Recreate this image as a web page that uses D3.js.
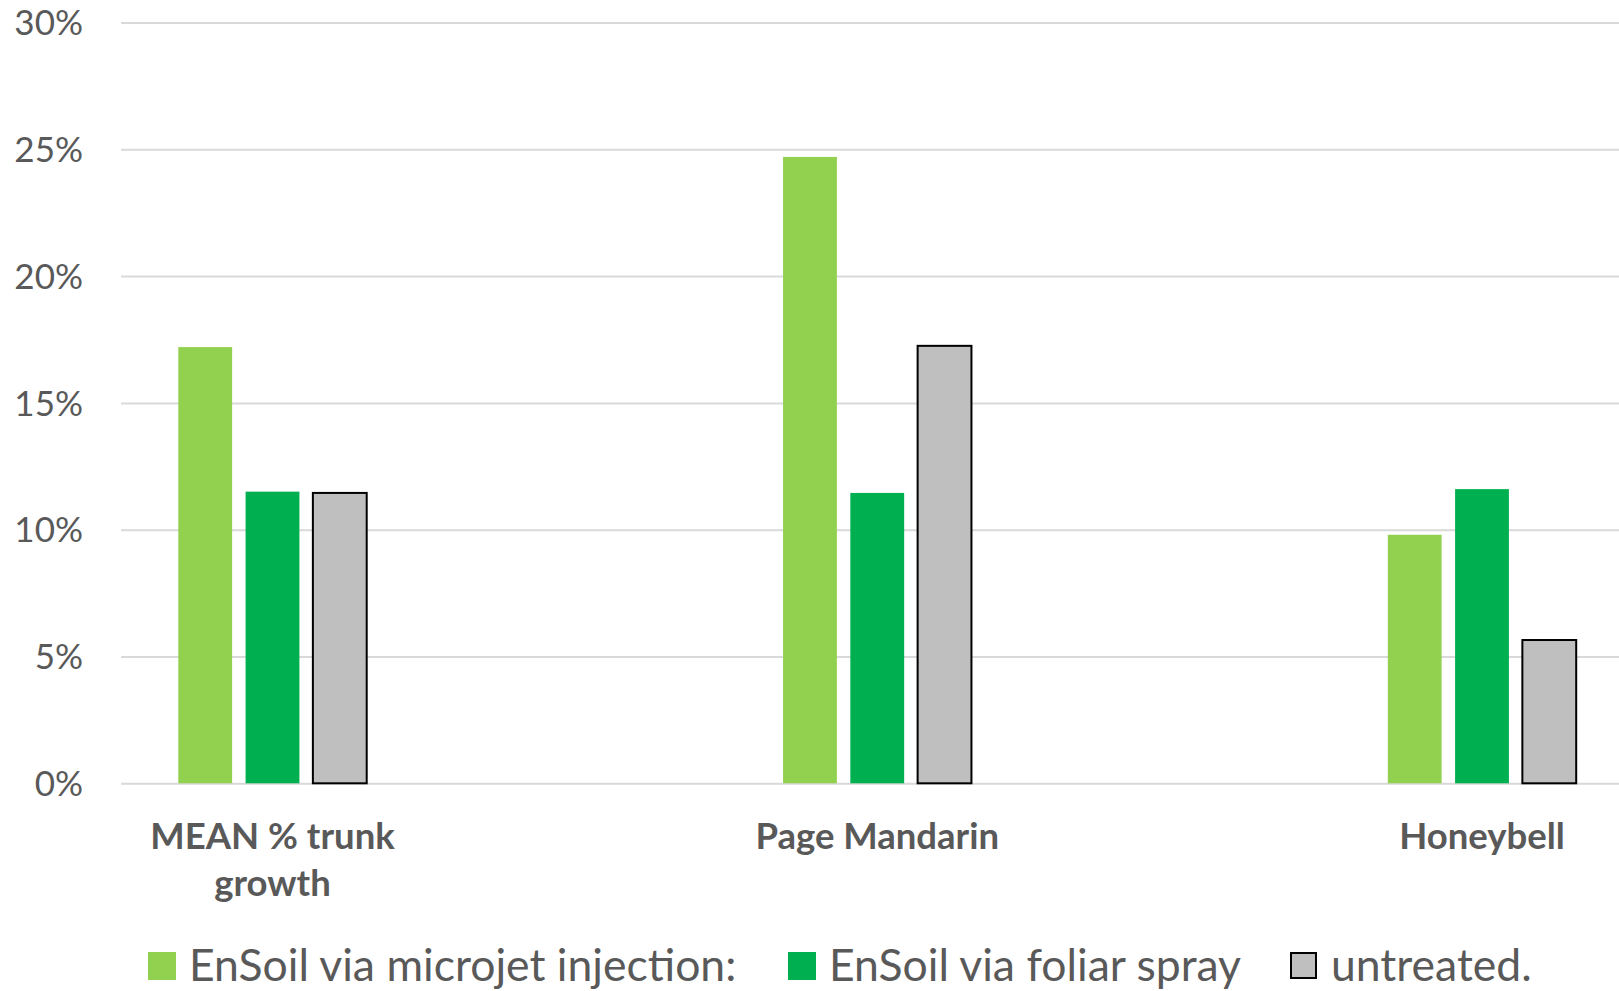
<!DOCTYPE html>
<html>
<head>
<meta charset="utf-8">
<script src="https://cdn.jsdelivr.net/npm/d3@7"></script>
<style>
  body { margin: 0; background: #fff; }
  text { font-family: Lato, "Open Sans", sans-serif; fill: #595959; }
</style>
</head>
<body>
<svg id="chart"></svg>
<script>
// ---- data ----
const categories = [["MEAN % trunk", "growth"], ["Page Mandarin"], ["Honeybell"]];
const seriesNames = ["EnSoil via microjet injection:", "EnSoil via foliar spray", "untreated."];
const microjet = [17.2, 24.7, 9.8];
const foliar = [11.5, 11.45, 11.6];
const untreated = [11.45, 17.25, 5.65];
const yTicks = [0, 5, 10, 15, 20, 25, 30];

const colors = ["#92d050", "#00b050", "#bfbfbf"];
const seriesValues = [microjet, foliar, untreated];

const width = 1619;
const height = 991;

const svg = d3.select("#chart")
    .attr("width", width)
    .attr("height", height);

// ---- scales ----
const y = d3.scaleLinear().domain([0, 30]).range([783.3, 22.5]);

const x = d3.scalePoint()
    .domain(d3.range(categories.length))
    .range([272.5, 1482]);

const inner = d3.scaleBand()
    .domain(d3.range(seriesNames.length))
    .range([-94.2, 94.2])
    .paddingInner(0.2);

// ---- gridlines + y labels ----
const yAxis = svg.append("g")
    .call(d3.axisLeft(y).tickValues(yTicks).tickSize(0).tickPadding(0)
        .tickFormat(d => d + "%"));
yAxis.select(".domain").remove();
yAxis.selectAll(".tick line")
    .attr("x1", 121).attr("x2", width)
    .attr("stroke", "#d9d9d9").attr("stroke-width", 2);
yAxis.selectAll(".tick text")
    .attr("x", 83)
    .attr("dy", "0.35em")
    .style("font-size", "35px")
    .style("fill", "#595959");

// ---- bars ----
seriesValues.forEach((vals, s) => {
  svg.append("g").selectAll("rect")
    .data(vals)
    .enter().append("rect")
    .attr("x", (d, i) => x(i) + inner(s))
    .attr("width", inner.bandwidth())
    .attr("y", d => y(d))
    .attr("height", d => y(0) - y(d))
    .attr("fill", colors[s])
    .attr("stroke", s === 2 ? "#000" : "none")
    .attr("stroke-width", 2);
});

// ---- category labels ----
const catLabels = svg.append("g").selectAll("text")
    .data(categories)
    .enter().append("text")
    .attr("x", (d, i) => x(i))
    .attr("y", 849)
    .attr("text-anchor", "middle")
    .style("font-size", "36.5px")
    .style("font-weight", "bold");

catLabels.selectAll("tspan")
    .data(d => d)
    .enter().append("tspan")
    .attr("x", function () { return d3.select(this.parentNode).attr("x"); })
    .attr("dy", (d, i) => i === 0 ? 0 : 47)
    .text(d => d);

// ---- legend ----
const legendX = [148, 788, 1290];
const legend = svg.append("g").selectAll("g")
    .data(seriesNames)
    .enter().append("g")
    .attr("transform", (d, i) => `translate(${legendX[i]},952)`);

legend.append("rect")
    .attr("width", (d, i) => i === 2 ? 25 : 28)
    .attr("height", (d, i) => i === 2 ? 25 : 28)
    .attr("x", (d, i) => i === 2 ? 1 : 0)
    .attr("y", (d, i) => i === 2 ? 1 : 0)
    .attr("fill", (d, i) => colors[i])
    .attr("stroke", (d, i) => i === 2 ? "#000" : "none")
    .attr("stroke-width", 2);

legend.append("text")
    .attr("x", 41)
    .attr("y", 29)
    .style("font-size", "44.5px")
    .text(d => d);
</script>
</body>
</html>
